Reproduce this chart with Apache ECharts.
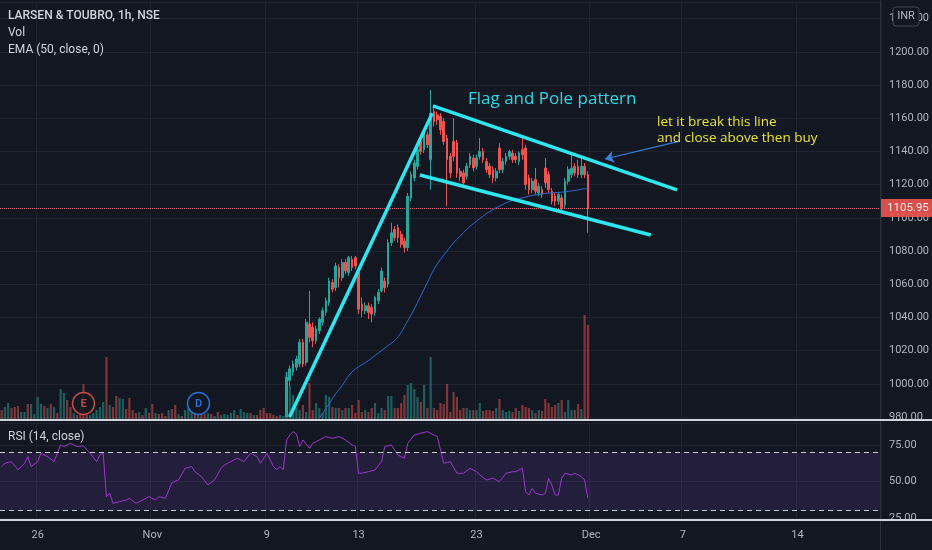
<!DOCTYPE html>
<html>
<head>
<meta charset="utf-8">
<script src="https://cdn.jsdelivr.net/npm/echarts@6/dist/echarts.min.js"></script>
<style>
html,body{margin:0;padding:0;background:#131722;}
#c{width:932px;height:550px;}
</style>
</head>
<body>
<div id="c"></div>
<script>
// ---------- data ----------
const barCount = 269;                       // hourly slots on the time axis
const tickLabels = ['26','Nov','9','13','23','Dec','7','14'];
const tickIndex  = [11, 46, 81, 109, 145, 180, 208, 243];

const candleStart = 87;                     // earlier candles sit below the visible price range
const ohlc = [ // [open, close, low, high]
[980,1004,980,1007],[1002,1009,999,1011],[1007,1012,1005,1014],[1010,1015,1008,1017],[1012,1025,1010,1027],
[1025,1012,1010,1027],[1013,1037,1011,1039],[1036,1028,1025,1056],[1034,1026,1022,1037],[1026,1033,1024,1035],
[1032,1039,1030,1040],[1037,1044,1035,1046],[1043,1050,1041,1052],[1049,1062,1047,1064],[1061,1057,1055,1063],
[1058,1071,1056,1073],[1070,1064,1058,1072],[1064,1073,1062,1075],[1073,1068,1066,1075],[1067,1076,1065,1077],
[1075,1070,1068,1077],[1076,1071,1069,1077],[1067,1045,1042,1068],[1048,1044,1040,1052],[1044,1047,1042,1049],
[1047,1043,1039,1049],[1046,1042,1037,1048],[1043,1052,1041,1053],[1050,1055,1048,1057],[1056,1068,1055,1070],
[1062,1058,1055,1064],[1060,1085,1058,1087],[1085,1091,1083,1097],[1093,1088,1086,1095],[1094,1088,1085,1096],
[1090,1084,1082,1092],[1086,1082,1079,1088],[1082,1113,1080,1115],[1112,1126,1110,1128],[1124,1133,1122,1135],
[1131,1141,1129,1143],[1146,1140,1138,1149],[1141,1151,1139,1153],[1150,1144,1142,1152],[1135,1163,1117,1177],
[1164,1158,1155,1167],[1162,1159,1156,1164],[1161,1153,1150,1163],[1158,1146,1144,1160],[1148,1135,1107,1150],
[1137,1127,1124,1139],[1146,1137,1134,1160],[1145,1127,1124,1147],[1128,1125,1122,1130],[1127,1121,1118,1129],
[1125,1131,1123,1133],[1132,1137,1130,1139],[1136,1130,1128,1138],[1131,1136,1129,1138],[1137,1140,1135,1148],
[1140,1135,1133,1142],[1134,1129,1127,1136],[1131,1126,1124,1133],[1129,1124,1121,1131],[1124,1128,1122,1130],
[1142,1129,1127,1145],[1129,1134,1127,1136],[1134,1137,1132,1139],[1137,1140,1135,1141],[1139,1135,1133,1141],
[1137,1135,1133,1139],[1134,1139,1132,1140],[1141,1138,1135,1148],[1142,1120,1117,1144],[1124,1117,1114,1126],
[1117,1122,1115,1124],[1123,1116,1114,1130],[1115,1119,1113,1121],[1117,1114,1112,1119],[1130,1121,1118,1136],
[1126,1117,1115,1128],[1116,1110,1108,1118],[1113,1110,1107,1115],[1110,1114,1108,1115],[1112,1106,1103,1114],
[1108,1122,1106,1124],[1122,1129,1120,1131],[1126,1130,1124,1139],[1131,1127,1125,1133],[1131,1126,1124,1135],
[1126,1131,1124,1136],[1131,1126,1124,1133],[1126,1105.95,1091,1128]
];
const lastPrice = 1105.95;

const volume = [
10,13,17,12,13,14,8,8,16,16, 6,23,16,14,12,16,13,7,31,27, 20,13,7,5,12,36,7,5,7,10,
13,18,63,15,13,24,22,21,11,22, 10,7,8,5,12,7,16,7,6,7, 4,10,11,15,6,4,10,12,10,8,
6,7,6,7,6,4,8,5,6,5, 7,10,5,11,8,7,7,5,5,10, 12,7,7,5,4,5,4,
48,35,25,13,10,15,8,37,10,17, 12,7,25,23,13,12,12,10,12,12, 15,7,20,8,10,8,12,17,7,12,
10,24,24,12,12,17,25,35,37,31, 23,18,35,12,63,12,10,17,16,36, 8,28,23,10,12,12,10,10,10,17,
9,10,10,9,12,21,10,8,9,8, 12,9,15,13,12,10,7,10,9,21, 17,13,15,17,20,8,20,10,10,16, 11,105,95
];
// direction of the volume bars before the first visible candle (g = up, r = down)
const volDirEarly = ('rggrrrggrg'+'gggrgrgrgg'+'rrgrrrrggg'+'ggrgrrggrr'+'rrgrgrrgrr'+
                     'rgrrgrgggr'+'grrgrgrggg'+'ggrgggrgrr'+'rrrrrgg').split('');

const emaPoints = [[96,977],[98,982],[100,988],[102,994],[104,999],[106,1005],[108,1009],[110,1011.5],
[112,1014],[114,1017],[116,1020],[118,1023],[120,1026],[122,1031],[124,1038],[126,1045],[128,1053],
[130,1061],[132,1069],[134,1075],[136,1080],[138,1085],[140,1089],[142,1093],[144,1096.5],[146,1099.5],
[148,1102.5],[150,1105],[152,1107],[154,1109],[156,1110.5],[158,1111.5],[160,1112.5],[162,1113.5],
[164,1114],[166,1114.7],[168,1115],[170,1115.3],[172,1115.6],[174,1116.2],[176,1116.8],[178,1117.5],[179,1117.4]];

const rsiPoints = [[0,60.2],[1,62.4],[3,63.6],[5,57.9],[7,62.4],[8,67.0],[9,60.2],[11,63.6],[12,69.3],[14,67.0],
[16,63.6],[18,75.0],[19,73.9],[21,76.1],[23,73.9],[25,74.3],[27,69.3],[29,63.6],[30,68.1],[31,69.3],[32,39.6],
[33,41.9],[34,35.0],[36,36.2],[38,37.3],[39,38.5],[41,35.0],[43,37.3],[45,39.6],[47,37.3],[48,39.6],[50,38.5],
[52,49.2],[54,51.0],[56,59.0],[58,60.2],[59,56.7],[61,53.3],[63,47.6],[65,51.0],[67,59.0],[68,61.3],[70,63.6],
[72,65.9],[74,63.6],[76,69.3],[78,67.0],[79,62.4],[81,69.3],[83,60.2],[84,57.9],[85,60.2],[86,57.9],[87,78.4],
[88,81.8],[89,84.1],[90,82.5],[91,73.9],[92,78.4],[94,72.7],[95,76.0],[97,78.4],[99,80.7],[101,79.6],[103,80.7],
[105,78.4],[107,75.0],[108,73.9],[109,55.6],[110,55.6],[112,56.7],[114,57.9],[116,63.6],[117,73.9],[119,75.0],
[121,68.1],[123,65.9],[124,76.1],[126,81.8],[128,83.0],[130,84.1],[132,81.8],[133,80.7],[134,71.6],[135,62.4],
[137,63.6],[139,55.6],[141,55.6],[143,59.0],[145,56.7],[146,54.4],[148,51.0],[150,52.2],[152,49.9],[154,55.6],
[156,56.7],[157,56.7],[159,59.0],[160,43.0],[161,40.7],[162,45.3],[163,41.9],[165,40.7],[166,41.9],[167,52.2],
[168,47.6],[169,40.7],[170,40.7],[171,52.2],[172,55.6],[174,54.4],[175,55.6],[177,53.3],[178,51.0],[179,38.5]];
const rsiBand = [30, 70];

// drawings on the chart, in (bar index, price)
const poleLine  = [[87.9, 980], [131.5, 1163]];
const flagUpper = [[131.7, 1167.4], [206.2, 1116.8]];
const flagLower = [[127.7, 1125.8], [198.2, 1089.6]];
const arrowLine = [[207.1, 1146.2], [184.2, 1135.4]];

// ---------- chart ----------
const UP = '#26a69a', DOWN = '#ef5350', GRID = '#1f2330', TXT = '#b2b5be';
const cats = Array.from({length: barCount}, (_, i) => String(i));
const isTick = i => tickIndex.indexOf(i) >= 0;

const candleData = ohlc.map((d, k) => [candleStart + k, d[0], d[1], d[2], d[3]]);
const volData = volume.map((v, i) => {
  let up;
  if (i < candleStart) up = volDirEarly[i] === 'g';
  else { const d = ohlc[i - candleStart]; up = d[1] >= d[0]; }
  return {value: v, itemStyle: {color: up ? 'rgba(38,166,154,0.5)' : 'rgba(239,83,80,0.5)'}};
});
const seg = s => [{coord: s[0]}, {coord: s[1]}];

const chart = echarts.init(document.getElementById('c'), null, {renderer: 'canvas'});
const font = 'Roboto, "Liberation Sans", sans-serif';
const splitX = {show: true, interval: (i) => isTick(i), lineStyle: {color: GRID, width: 1}};

chart.setOption({
  animation: false,
  backgroundColor: '#131722',
  textStyle: {fontFamily: font},
  grid: [
    {left: 0, right: 51, top: 2, height: 415},     // price
    {left: 0, right: 51, top: 0, height: 420},     // volume
    {left: 0, right: 51, top: 423, height: 95}     // RSI
  ],
  xAxis: [
    {gridIndex: 0, type: 'category', data: cats, axisLine: {show: false}, axisTick: {show: false},
     axisLabel: {show: false}, splitLine: splitX},
    {gridIndex: 0, type: 'value', min: -0.5, max: barCount - 0.5, show: false},
    {gridIndex: 1, type: 'category', data: cats, show: false},
    {gridIndex: 2, type: 'category', data: cats, axisLine: {show: false}, axisTick: {show: false},
     splitLine: splitX,
     axisLabel: {interval: (i) => isTick(i), formatter: (v, i) => tickLabels[tickIndex.indexOf(i)] || '',
                 color: TXT, fontSize: 11, margin: 12, fontFamily: font}}
  ],
  yAxis: [
    {gridIndex: 0, type: 'value', position: 'right', min: 980, max: 1230, interval: 20,
     axisLine: {show: false}, axisTick: {show: false},
     axisLabel: {color: TXT, fontSize: 11, margin: 8, showMaxLabel: false, formatter: v => v.toFixed(2)},
     splitLine: {lineStyle: {color: GRID}}},
    {gridIndex: 1, type: 'value', min: 0, max: 420, show: false},
    {gridIndex: 2, type: 'value', position: 'right', min: 25, max: 90, interval: 25,
     axisLine: {show: false}, axisTick: {show: false},
     axisLabel: {color: TXT, fontSize: 11, margin: 8, showMaxLabel: false, formatter: v => v.toFixed(2)},
     splitLine: {lineStyle: {color: GRID}}}
  ],
  series: [
    {type: 'bar', xAxisIndex: 2, yAxisIndex: 1, data: volData, barWidth: 2.2, z: 1, silent: true},
    {type: 'candlestick', xAxisIndex: 0, yAxisIndex: 0, data: candleData, encode: {x: 0, y: [1, 2, 3, 4]},
     barWidth: 2.2, z: 3, clip: true,
     itemStyle: {color: UP, color0: DOWN, borderColor: UP, borderColor0: DOWN, borderWidth: 1},
     markLine: {silent: true, symbol: 'none', z: 2,
       lineStyle: {color: '#f06a78', type: 'dotted', width: 1, opacity: 0.9},
       label: {position: 'end', distance: 0, formatter: lastPrice.toFixed(2), color: '#ffffff',
               backgroundColor: '#f0534f', padding: [3, 4, 3, 6], fontSize: 11.5, fontFamily: font},
       data: [{yAxis: lastPrice}]}},
    {type: 'line', xAxisIndex: 0, yAxisIndex: 0, data: emaPoints, showSymbol: false, smooth: 0.3,
     lineStyle: {color: '#2d6bd2', width: 1}, z: 4},
    {type: 'line', xAxisIndex: 1, yAxisIndex: 0, data: [], z: 6,
     markLine: {silent: true, symbol: 'none', animation: false,
       lineStyle: {color: '#2ee6ee', width: 3.5, type: 'solid'}, label: {show: false},
       data: [seg(poleLine), seg(flagUpper), seg(flagLower)]}},
    {type: 'line', xAxisIndex: 1, yAxisIndex: 0, data: [], z: 6,
     markLine: {silent: true, symbol: ['none', 'arrow'], symbolSize: [9, 9],
       lineStyle: {color: '#3b7fd8', width: 1.2, type: 'solid', curveness: -0.08}, label: {show: false},
       data: [seg(arrowLine)]}},
    {type: 'line', xAxisIndex: 3, yAxisIndex: 2, data: rsiPoints, showSymbol: false,
     lineStyle: {color: '#a035cc', width: 1}, z: 4,
     markArea: {silent: true, itemStyle: {color: 'rgba(120,70,200,0.16)'},
       data: [[{yAxis: rsiBand[0]}, {yAxis: rsiBand[1]}]]},
     markLine: {silent: true, symbol: 'none', label: {show: false},
       lineStyle: {color: '#c9cbd3', type: [5, 4], width: 1},
       data: [{yAxis: rsiBand[0]}, {yAxis: rsiBand[1]}]}}
  ],
  graphic: [
    {type: 'line', z: 50, shape: {x1: 880.5, y1: 0, x2: 880.5, y2: 550}, style: {stroke: '#2a2e39', lineWidth: 1}},
    {type: 'line', z: 60, shape: {x1: 0, y1: 420, x2: 932, y2: 420}, style: {stroke: '#d1d4dc', lineWidth: 2}},
    {type: 'line', z: 60, shape: {x1: 0, y1: 520, x2: 932, y2: 520}, style: {stroke: '#d1d4dc', lineWidth: 2}},
    {type: 'text', z: 60, style: {x: 8, y: 16, text: 'LARSEN & TOUBRO, 1h, NSE', fill: '#d1d4dc',
      font: '500 12px ' + font, textVerticalAlign: 'middle'}},
    {type: 'text', z: 60, style: {x: 8, y: 33, text: 'Vol', fill: '#d1d4dc', font: '12px ' + font, textVerticalAlign: 'middle'}},
    {type: 'text', z: 60, style: {x: 8, y: 50, text: 'EMA (50, close, 0)', fill: '#d1d4dc', font: '12px ' + font, textVerticalAlign: 'middle'}},
    {type: 'text', z: 60, style: {x: 8, y: 437, text: 'RSI (14, close)', fill: '#d1d4dc', font: '12px ' + font, textVerticalAlign: 'middle'}},
    {type: 'rect', z: 60, shape: {x: 893, y: 7, width: 26, height: 19, r: 3}, style: {fill: '#131722', stroke: '#434651', lineWidth: 1}},
    {type: 'text', z: 61, style: {x: 906, y: 16.5, text: 'INR', fill: TXT, font: '11px ' + font, textAlign: 'center', textVerticalAlign: 'middle'}},
    {type: 'text', z: 60, style: {x: 468, y: 99, text: 'Flag and Pole pattern', fill: '#2ad8e2',
      font: '17px "Open Sans", sans-serif', textVerticalAlign: 'middle'}},
    {type: 'text', z: 60, style: {x: 657, y: 122, text: 'let it break this line', fill: '#e6e62c',
      font: '13.5px "Open Sans", sans-serif', textVerticalAlign: 'middle'}},
    {type: 'text', z: 60, style: {x: 657, y: 138, text: 'and close above then buy', fill: '#e6e62c',
      font: '13.5px "Open Sans", sans-serif', textVerticalAlign: 'middle'}},
    {type: 'circle', z: 55, shape: {cx: 83.5, cy: 403.5, r: 11}, style: {fill: 'rgba(19,23,34,0.85)', stroke: '#c24a47', lineWidth: 1.5}},
    {type: 'text', z: 56, style: {x: 83.5, y: 404, text: 'E', fill: '#c24a47', font: '600 11px ' + font, textAlign: 'center', textVerticalAlign: 'middle'}},
    {type: 'circle', z: 55, shape: {cx: 198.5, cy: 403.5, r: 11}, style: {fill: 'rgba(19,23,34,0.85)', stroke: '#2a6fd6', lineWidth: 1.5}},
    {type: 'text', z: 56, style: {x: 198.5, y: 404, text: 'D', fill: '#2a6fd6', font: '600 11px ' + font, textAlign: 'center', textVerticalAlign: 'middle'}}
  ]
});
</script>
</body>
</html>
